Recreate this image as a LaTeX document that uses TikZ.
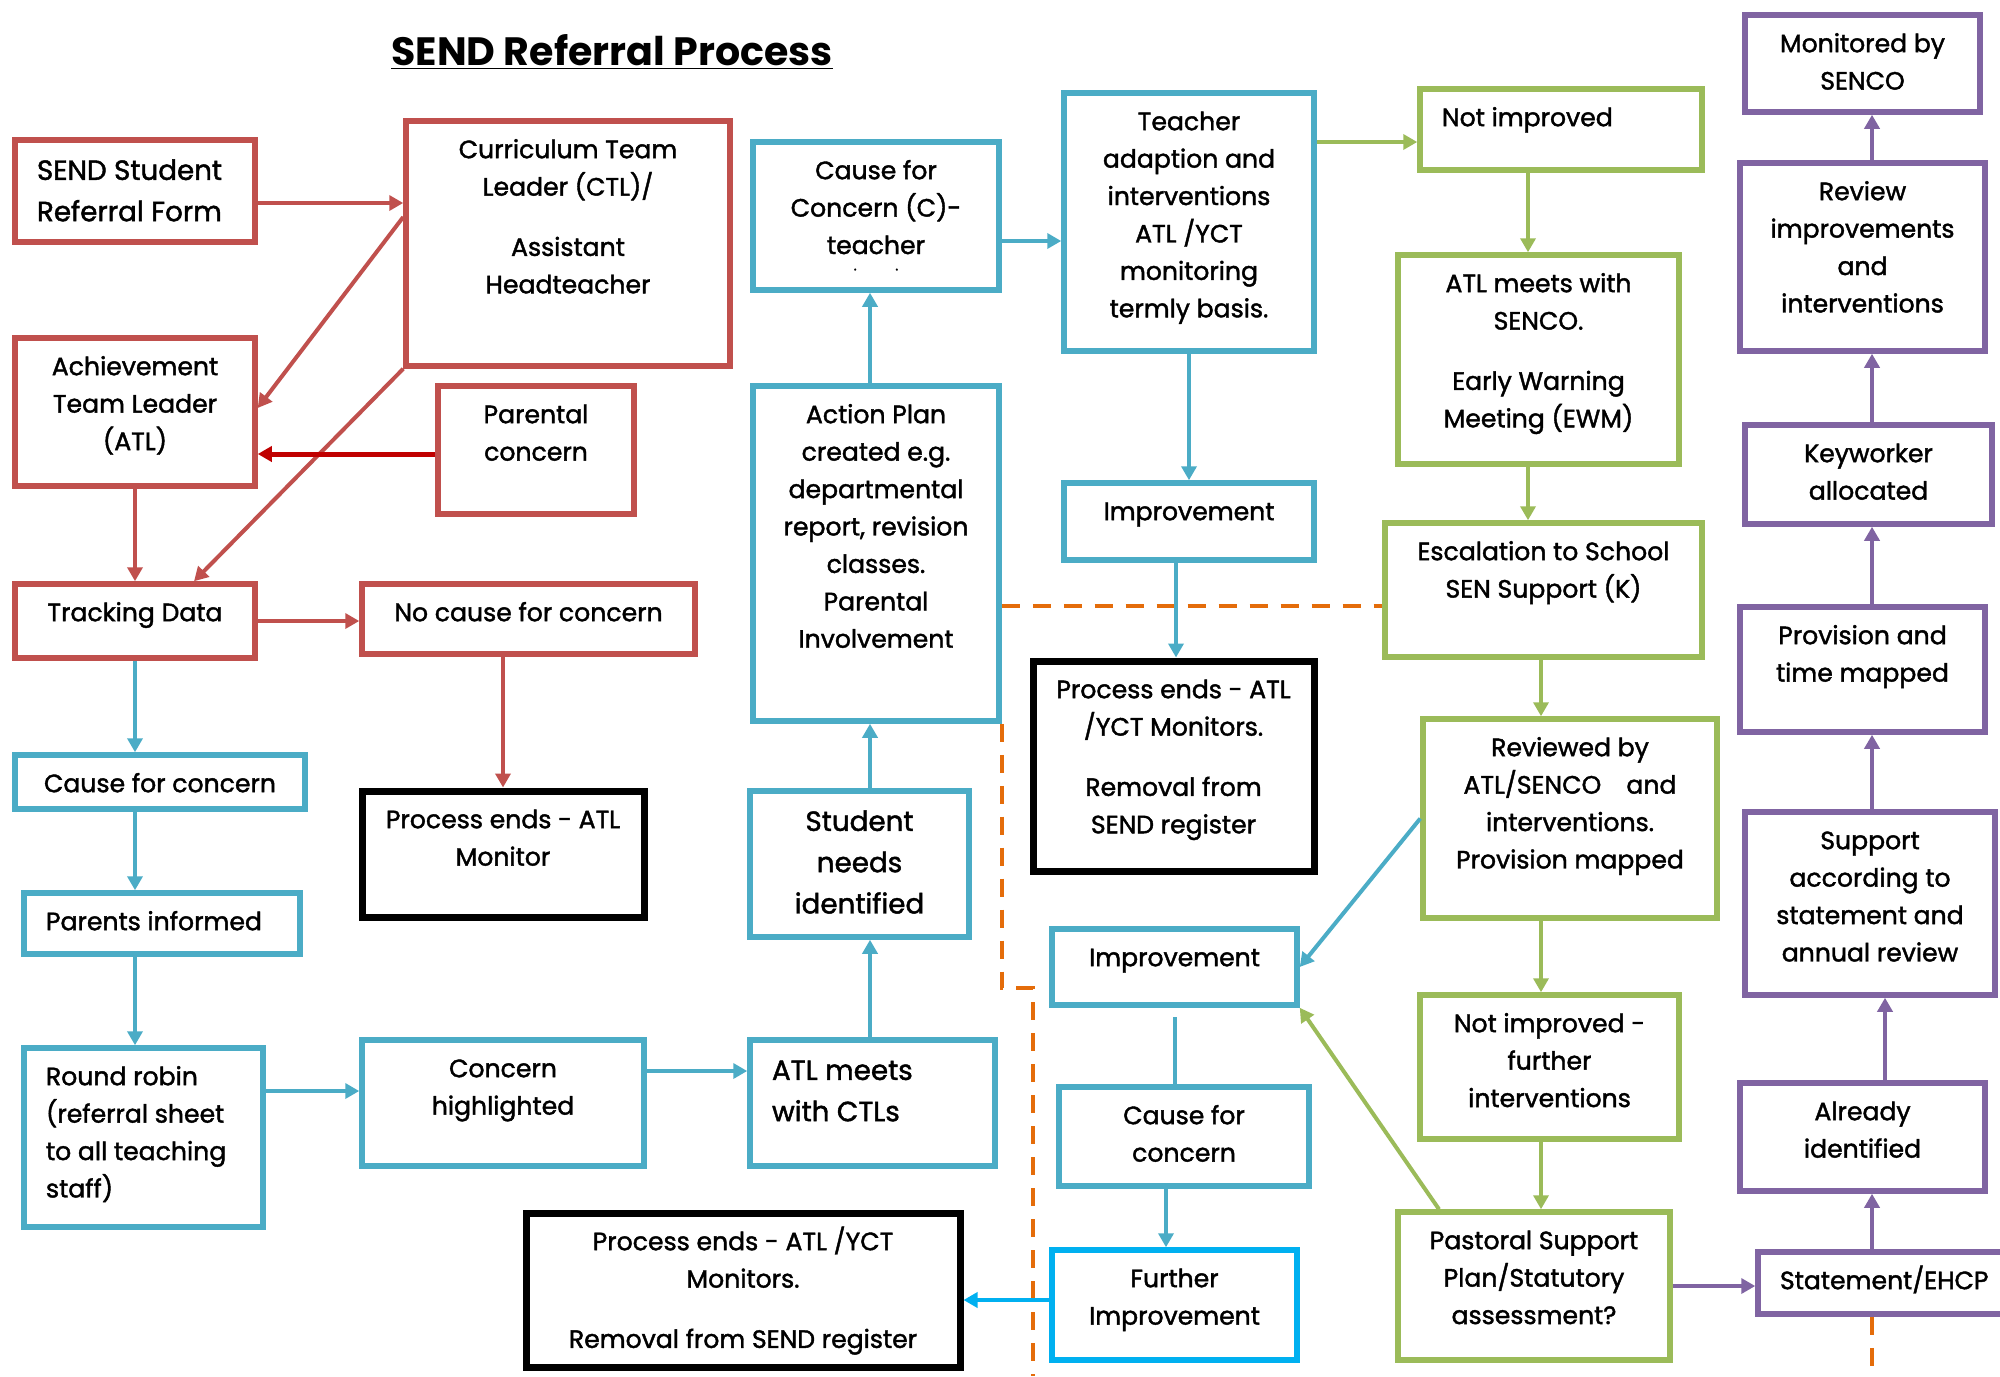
\documentclass[tikz,border=0pt]{standalone}
\usepackage{fontspec}
\setmainfont{Poppins}[UprightFeatures={FakeBold=1.6}]
\usetikzlibrary{arrows.meta}

\definecolor{redline}{HTML}{C0504D}
\definecolor{darkred}{HTML}{C00000}
\definecolor{blueline}{HTML}{4BACC6}
\definecolor{brightblue}{HTML}{00B0F0}
\definecolor{greenline}{HTML}{9BBB59}
\definecolor{purpleline}{HTML}{8064A2}
\definecolor{orangeline}{HTML}{E46C0A}

\newdimen\px \px=0.02cm
\newcommand{\boxtxt}[3]{\parbox[c][#2\px][t]{\dimexpr#1\px-0.88cm\relax}{\centering\vspace*{11\px}\strut#3}}

\begin{document}
\begin{tikzpicture}[x=0.02cm,y=-0.02cm,line width=0.08cm,>={Triangle[length=0.28cm,width=0.3cm]},font=\fontsize{14.3}{21.3}\selectfont]
\tikzstyle{flowbox}=[rectangle,draw=#1,line width=0.11cm,inner xsep=0.44cm,inner ysep=0pt]
\tikzstyle{endbox}=[flowbox=black,line width=0.14cm]
\tikzstyle{bigtext}=[font=\fontsize{15.8}{23.5}\selectfont]
\tikzstyle{orangedash}=[draw=orangeline,dash pattern=on 0.36cm off 0.26cm]

\useasboundingbox (0,0) rectangle (2000,1376);

\node[font=\fontsize{22.5}{26}\selectfont\bfseries] (title) at (612,52) {\underline{SEND Referral Process}};

% red boxes
\node[flowbox=redline,bigtext] (form) at (135,191) {\boxtxt{240}{102}{\raggedright SEND Student\\Referral Form}};
\node[flowbox=redline] (ctl) at (568,243.5) {\boxtxt{324}{245}{Curriculum Team\\Leader (CTL)/\\[13pt]Assistant\\Headteacher}};
\node[flowbox=redline] (atl) at (135,412) {\boxtxt{240}{148}{Achievement\\Team Leader\\(ATL)}};
\node[flowbox=redline] (parent) at (536,450) {\boxtxt{196}{128}{Parental\\concern}};
\node[flowbox=redline] (track) at (135,621) {\boxtxt{240}{74}{Tracking Data}};
\node[flowbox=redline] (nocause) at (528.5,619) {\boxtxt{333}{70}{No cause for concern}};
\node[endbox] (endA) at (503,854) {\boxtxt{282}{126}{Process ends - ATL\\Monitor}};

% blue boxes
\node[flowbox=blueline] (cfcA) at (160,782) {\boxtxt{290}{54}{Cause for concern}};
\node[flowbox=blueline] (pinf) at (162,923.5) {\boxtxt{276}{61}{\raggedright Parents informed}};
\node[flowbox=blueline] (robin) at (143.5,1137.5) {\boxtxt{239}{179}{\raggedright Round robin\\(referral sheet\\to all teaching\\staff)}};
\node[flowbox=blueline] (highl) at (503,1103) {\boxtxt{282}{126}{Concern\\highlighted}};
\node[flowbox=blueline,bigtext] (atlctl) at (872.5,1103) {\boxtxt{245}{126}{\raggedright ATL meets\\with CTLs}};
\node[flowbox=blueline,bigtext] (needs) at (859.5,864) {\boxtxt{219}{146}{Student\\needs\\identified}};
\node[flowbox=blueline] (plan) at (876,553.5) {\boxtxt{246}{335}{Action Plan\\created e.g.\\departmental\\report, revision\\classes.\\Parental\\Involvement}};
\node[flowbox=blueline] (cfcT) at (876,216) {\boxtxt{246}{148}{Cause for\\Concern (C)-\\teacher\\[-12pt]{\footnotesize.\hspace{22pt}.}}};
\node[flowbox=blueline] (adapt) at (1189,222) {\boxtxt{250}{258}{Teacher\\adaption and\\interventions\\ATL /YCT\\monitoring\\termly basis.}};
\node[flowbox=blueline] (impA) at (1189,521.5) {\boxtxt{250}{77}{Improvement}};
\node[endbox] (endB) at (1173.5,766) {\boxtxt{281}{210}{Process ends - ATL\\/YCT Monitors.\\[13pt]Removal from\\SEND register}};
\node[flowbox=blueline] (impB) at (1174.5,967) {\boxtxt{245}{76}{Improvement}};
\node[flowbox=blueline] (cfcB) at (1184,1136.5) {\boxtxt{250}{99}{Cause for\\concern}};
\node[flowbox=brightblue] (further) at (1174.5,1305) {\boxtxt{245}{110}{Further\\Improvement}};
\node[endbox] (endC) at (743,1290) {\boxtxt{434}{154}{Process ends - ATL /YCT\\Monitors.\\[13pt]Removal from SEND register}};

% green boxes
\node[flowbox=greenline] (notimpA) at (1561,129.5) {\boxtxt{282}{81}{\raggedright Not improved}};
\node[flowbox=greenline] (senco) at (1538.5,359.5) {\boxtxt{281}{209}{ATL meets with\\SENCO.\\[13pt]Early Warning\\Meeting (EWM)}};
\node[flowbox=greenline] (escal) at (1543.5,590) {\boxtxt{317}{134}{Escalation to School\\SEN Support (K)}};
\node[flowbox=greenline] (review) at (1570,818.5) {\boxtxt{294}{199}{Reviewed by\\ATL/SENCO\quad and\\interventions.\\Provision mapped}};
\node[flowbox=greenline] (notimpB) at (1549.5,1067) {\boxtxt{259}{144}{Not improved -\\further\\interventions}};
\node[flowbox=greenline] (pastoral) at (1534,1286) {\boxtxt{272}{148}{Pastoral Support\\Plan/Statutory\\assessment?}};

% purple boxes
\node[flowbox=purpleline] (monit) at (1862.5,63.5) {\boxtxt{235}{97}{Monitored by\\SENCO}};
\node[flowbox=purpleline] (revimp) at (1862.5,257) {\boxtxt{245}{188}{Review\\improvements\\and\\interventions}};
\node[flowbox=purpleline] (keyw) at (1868.5,474.5) {\boxtxt{247}{99}{Keyworker\\allocated}};
\node[flowbox=purpleline] (provt) at (1862.5,669.5) {\boxtxt{245}{125}{Provision and\\time mapped}};
\node[flowbox=purpleline] (support) at (1870,903.5) {\boxtxt{250}{183}{Support\\according to\\statement and\\annual review}};
\node[flowbox=purpleline] (already) at (1862.5,1137) {\boxtxt{245}{108}{Already\\identified}};
\node[flowbox=purpleline] (statem) at (1882,1283) {\boxtxt{248}{62}{Statement/EHCP}};

% dashed links
\coordinate (edgeA) at (1033,1376);
\coordinate (edgeB) at (1872,1376);
\draw[orangedash] (plan.east |- 0,606) -- (escal.west |- 0,606);
\draw[orangedash] (plan.south east) -- (plan.east |- 0,988) -| (edgeA);
\draw[orangedash] (statem.south -| edgeB) -- (edgeB);

% red arrows
\draw[->,redline] (form.east |- 0,203) -- (ctl.west |- 0,203);
\draw[->,redline] (ctl.west |- 0,217) -- (atl.east |- 0,408);
\draw[->,redline] (ctl.south west) -- (track.north -| 194,0);
\draw[->,darkred,line width=0.1cm] (parent.west |- 0,454) -- (atl.east |- 0,454);
\draw[->,redline] (atl.south) -- (track.north);
\draw[->,redline] (track.east) -- (nocause.west |- track.east);
\draw[->,redline] (nocause.south -| endA.north) -- (endA.north);

% blue arrows
\draw[->,blueline] (track.south) -- (cfcA.north -| track.south);
\draw[->,blueline] (cfcA.south -| track.south) -- (pinf.north -| track.south);
\draw[->,blueline] (pinf.south -| track.south) -- (robin.north -| track.south);
\draw[->,blueline] (robin.east |- 0,1091) -- (highl.west |- 0,1091);
\draw[->,blueline] (highl.east |- 0,1071) -- (atlctl.west |- 0,1071);
\draw[->,blueline] (atlctl.north -| 870,0) -- (needs.south -| 870,0);
\draw[->,blueline] (needs.north -| 870,0) -- (plan.south -| 870,0);
\draw[->,blueline] (plan.north -| 870,0) -- (cfcT.south -| 870,0);
\draw[->,blueline] (cfcT.east |- 0,241) -- (adapt.west |- 0,241);
\draw[->,blueline] (adapt.south) -- (impA.north);
\draw[->,blueline] (impA.south -| 1176,0) -- (endB.north -| 1176,0);
\draw[->,blueline] (review.west) -- (impB.east);
\draw[blueline] (impB.south |- 0,1017) -- (cfcB.north -| impB.south);
\draw[->,blueline] (cfcB.south -| 1166,0) -- (further.north -| 1166,0);
\draw[->,brightblue] (further.west |- 0,1300) -- (endC.east |- 0,1300);

% green arrows
\draw[->,greenline] (adapt.east |- 0,142) -- (notimpA.west |- 0,142);
\draw[->,greenline] (notimpA.south -| 1528,0) -- (senco.north -| 1528,0);
\draw[->,greenline] (senco.south -| 1528,0) -- (escal.north -| 1528,0);
\draw[->,greenline] (escal.south -| 1541,0) -- (review.north -| 1541,0);
\draw[->,greenline] (review.south -| 1541,0) -- (notimpB.north -| 1541,0);
\draw[->,greenline] (notimpB.south -| 1541,0) -- (pastoral.north -| 1541,0);
\draw[->,greenline] (pastoral.north -| 1439,0) -- (impB.south east);

% purple arrows
\draw[->,purpleline] (pastoral.east) -- (statem.west |- pastoral.east);
\draw[->,purpleline] (statem.north -| 1872,0) -- (already.south -| 1872,0);
\draw[->,purpleline] (already.north -| 1885,0) -- (support.south -| 1885,0);
\draw[->,purpleline] (support.north -| 1872,0) -- (provt.south -| 1872,0);
\draw[->,purpleline] (provt.north -| 1872,0) -- (keyw.south -| 1872,0);
\draw[->,purpleline] (keyw.north -| 1872,0) -- (revimp.south -| 1872,0);
\draw[->,purpleline] (revimp.north -| 1872,0) -- (monit.south -| 1872,0);
\end{tikzpicture}
\end{document}
